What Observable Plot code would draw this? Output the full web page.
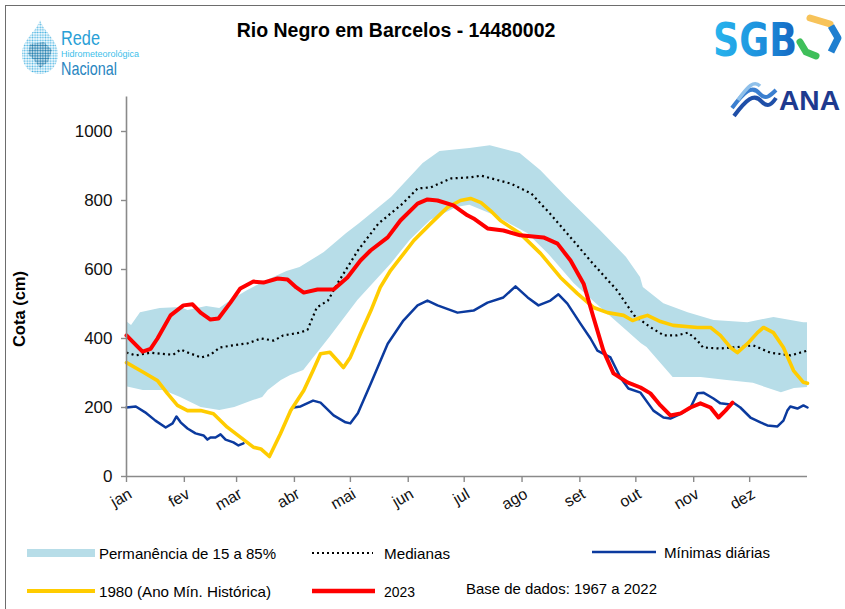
<!DOCTYPE html>
<html>
<head>
<meta charset="utf-8">
<script src="https://cdn.jsdelivr.net/npm/d3@7"></script>
<script src="https://cdn.jsdelivr.net/npm/@observablehq/plot@0.6"></script>
<style>
  html, body { margin: 0; padding: 0; background: #fff; }
  #page { position: relative; width: 845px; height: 609px; overflow: hidden; background: #fff;
          font-family: "Liberation Sans", Arial, sans-serif; }
  #frame { position: absolute; left: 5px; top: 5px; width: 900px; height: 700px;
           border-left: 1.5px solid #6d6d6d; border-top: 1.5px solid #6d6d6d; }
  #chart { position: absolute; left: 0; top: 80px; }
  .abs { position: absolute; }
</style>
</head>
<body>
<div id="page">
  <div id="frame"></div>
  <div id="chart"></div>
</div>
<script>
// ---------------- DATA ----------------
const monthStarts = [0, 31, 59, 90, 120, 151, 181, 212, 243, 273, 304, 334];
const monthLabels = ["jan", "fev", "mar", "abr", "mai", "jun", "jul", "ago", "set", "out", "nov", "dez"];
const yTicks = [0, 200, 400, 600, 800, 1000];

// Permanência 15% (upper edge of band)
const bandHiDays = [0, 2.7, 7.5, 18, 29, 33, 43, 50, 56, 65, 73, 86, 93, 106, 118, 125, 142, 159, 168, 184, 195, 211, 222, 236, 254, 268, 275.5, 277, 288, 301, 315, 333, 347, 363, 365];
const bandHi     = [449, 438, 475, 487, 490, 481, 493, 487, 510, 539, 562, 594, 606, 649, 704, 733, 809, 907, 942, 951, 959, 936, 887, 809, 713, 635, 577, 548, 501, 475, 452, 446, 461, 446, 446];
// Permanência 85% (lower edge of band)
const bandLoDays = [0, 9, 20, 29, 40, 50, 58, 68, 73, 76, 83, 88, 95, 109, 124, 142, 152, 163, 177, 184, 197, 215, 226, 240, 254, 268, 276, 279, 293, 308, 322, 336, 351, 358, 365];
const bandLo     = [260, 249, 249, 229, 200, 191, 200, 220, 229, 249, 278, 293, 307, 403, 510, 617, 684, 742, 780, 786, 757, 704, 646, 559, 490, 423, 385, 374, 287, 287, 278, 270, 243, 255, 258];

// Medianas
const medDays = [0, 5, 13, 18, 25, 29, 33, 40, 45, 50, 57, 65, 72, 79, 84, 93, 97, 102, 108, 113, 124, 135, 148, 156, 163, 174, 184, 190, 206, 217, 227, 238, 250, 263, 272, 281, 288, 295, 301, 306, 309, 318, 325, 336, 345, 356, 365];
const medVals = [359, 351, 359, 356, 353, 368, 359, 345, 353, 374, 380, 386, 400, 394, 409, 417, 425, 490, 510, 559, 655, 733, 791, 835, 838, 864, 867, 872, 849, 820, 762, 693, 617, 539, 467, 432, 409, 409, 417, 394, 374, 371, 374, 380, 359, 351, 365];

// Mínimas diárias (NaN = missing data)
const minDays = [0, 5, 10, 15.5, 21, 24.7, 26.8, 29, 32.7, 37, 41.3, 43.4, 45, 47.7, 50.4, 53.1, 57.3, 60, 62.7, 76, 89.5, 93.3, 100, 104, 111, 117.4, 120, 124, 131, 140, 148.4, 156, 161.3, 166.7, 177.4, 186, 193.5, 202, 208.5, 215, 220.8, 227.2, 231.5, 236.3, 243.3, 248.7, 252.4, 259.4, 264.7, 269, 275.5, 282.4, 287.8, 291.5, 295.3, 298.5, 302.3, 306, 309.2, 314.6, 318.3, 323.7, 325.3, 329, 334.4, 339.8, 343.5, 348.9, 352.1, 354.2, 355.8, 359.6, 362.8, 365];
const minVals = [200, 203, 186, 162, 142, 154, 174, 157, 139, 125, 119, 107, 113, 113, 122, 107, 99, 90, 96, NaN, 200, 203, 220, 214, 177, 157, 154, 183, 270, 385, 452, 496, 510, 496, 475, 481, 504, 519, 551, 519, 496, 510, 528, 501, 443, 400, 365, 345, 287, 255, 243, 191, 171, 168, 177, 186, 200, 241, 243, 226, 212, 209, 214, 200, 171, 157, 148, 145, 162, 191, 203, 197, 206, 200];

// 1980 (Ano Mín. Histórica)
const y1980Days = [0, 9, 16.6, 22, 27.3, 32.7, 39.7, 46.6, 54, 61, 68, 72, 76.6, 82.5, 88, 95, 100, 104, 109, 113, 116.3, 120, 125.4, 131, 136, 141.5, 147, 154, 163, 172, 179, 184.4, 190, 195, 200.4, 211, 222, 232.6, 241.7, 250.3, 257.8, 266.4, 271.2, 275.5, 279.2, 286.2, 293, 306, 313, 318.3, 323.7, 327.4, 332.8, 338.2, 341.4, 346.7, 352.1, 357.5, 362.8, 365];
const y1980Vals = [330, 302, 278, 240, 206, 191, 191, 182, 143, 114, 85, 80, 58, 124, 191, 249, 307, 356, 360, 336, 316, 346, 414, 481, 548, 597, 635, 684, 733, 780, 800, 806, 794, 771, 742, 704, 646, 577, 530, 490, 475, 467, 452, 461, 467, 449, 438, 432, 432, 409, 374, 359, 385, 417, 432, 417, 374, 307, 273, 270];

// 2023
const y2023Days = [0, 3.8, 8.6, 12.9, 16.6, 23.6, 30.5, 35.4, 39.7, 45, 49.3, 55.7, 61, 68, 73.4, 81, 86.3, 91, 95, 102.4, 111, 118.4, 125.4, 130.8, 140, 146.8, 156, 161.3, 166.7, 175.2, 182.7, 186, 193.5, 202, 211, 223.5, 231, 238, 245, 250.3, 255.6, 261, 268.5, 275.5, 280.8, 286.2, 291.5, 297, 302.3, 307.6, 313, 317.3, 321, 324.8];
const y2023Vals = [409, 388, 362, 370, 400, 467, 496, 499, 475, 455, 458, 504, 545, 565, 562, 574, 571, 548, 533, 542, 542, 577, 626, 655, 693, 742, 791, 803, 800, 786, 757, 748, 719, 713, 699, 693, 675, 626, 559, 461, 365, 299, 273, 258, 241, 206, 177, 183, 200, 212, 200, 171, 191, 214];

// ---------------- CHART ----------------
const axisGray = "#8a8a8a";
const chart = Plot.plot({
  width: 845,
  height: 450,
  marginLeft: 126,
  marginRight: 38,
  marginTop: 16.5,
  marginBottom: 54,
  x: {domain: [0, 365], axis: null},
  y: {domain: [0, 1100], axis: null},
  style: {fontFamily: "'Liberation Sans', Arial, sans-serif", background: "transparent", overflow: "visible"},
  marks: [
    Plot.area(bandLoDays, {x1: bandLoDays, y1: bandLo, x2: bandHiDays, y2: bandHi, fill: "#b7dde8"}),
    Plot.line(medDays, {x: medDays, y: medVals, stroke: "#000", strokeWidth: 2.2, strokeDasharray: "2,3.3", strokeLinecap: "butt"}),
    Plot.line(minDays, {x: minDays, y: minVals, stroke: "#0b3a9e", strokeWidth: 2.5}),
    Plot.line(y1980Days, {x: y1980Days, y: y1980Vals, stroke: "#ffcc00", strokeWidth: 3.6}),
    Plot.line(y2023Days, {x: y2023Days, y: y2023Vals, stroke: "#ff0000", strokeWidth: 4}),
    Plot.ruleX([0], {y1: 0, y2: 1100, stroke: axisGray, strokeWidth: 1.6}),
    Plot.ruleY([0], {x1: 0, x2: 365, stroke: axisGray, strokeWidth: 1.6}),
    Plot.axisY(yTicks, {anchor: "left", tickSize: 5, tickPadding: 9, fontSize: 17, stroke: axisGray, strokeWidth: 1.4,
      fill: "#111", label: null, tickFormat: d => String(d)}),
    Plot.axisX(monthStarts, {anchor: "bottom", tickSize: 6, stroke: axisGray, strokeWidth: 1.4, label: null, tickFormat: () => ""}),
    Plot.text(monthStarts, {x: d => d, frameAnchor: "bottom", text: d => monthLabels[monthStarts.indexOf(d)],
      rotate: -30, textAnchor: "end", lineAnchor: "middle", dx: 4, dy: 16, fontSize: 16, fill: "#111"})
  ]
});
document.getElementById("chart").appendChild(chart);

// ---------------- TITLES, LEGEND, LOGOS ----------------
const ns = "http://www.w3.org/2000/svg";
const page = document.getElementById("page");
const over = document.createElementNS(ns, "svg");
over.setAttribute("width", 845);
over.setAttribute("height", 609);
over.setAttribute("class", "abs");
over.style.left = "0px"; over.style.top = "0px";
over.style.fontFamily = "'Liberation Sans', Arial, sans-serif";
page.appendChild(over);

function el(tag, attrs, text) {
  const e = document.createElementNS(ns, tag);
  for (const k in attrs) e.setAttribute(k, attrs[k]);
  if (text != null) e.textContent = text;
  over.appendChild(e);
  return e;
}

// Title
el("text", {x: 396, y: 37, "text-anchor": "middle", "font-size": 19.5, "font-weight": "bold", fill: "#000"}, "Rio Negro em Barcelos - 14480002");
// Y label
el("text", {x: 0, y: 0, transform: "translate(25,309) rotate(-90)", "text-anchor": "middle", "font-size": 16.5, "font-weight": "bold", fill: "#000"}, "Cota (cm)");

// Legend
const legendItems = [
  {kind: "band", x: 27, y: 553, label: "Permanência de 15 a 85%", tx: 99, tw: 177},
  {kind: "dot", x: 312, y: 553, label: "Medianas", tx: 384, tw: 66},
  {kind: "min", x: 592, y: 552, label: "Mínimas diárias", tx: 664, tw: 106},
  {kind: "y1980", x: 27, y: 591, label: "1980 (Ano Mín. Histórica)", tx: 99, tw: 172},
  {kind: "y2023", x: 312, y: 591, label: "2023", tx: 384, tw: 31}
];
for (const it of legendItems) {
  if (it.kind === "band") el("rect", {x: it.x, y: it.y - 4, width: 68, height: 8, fill: "#b7dde8"});
  if (it.kind === "dot") el("line", {x1: it.x, x2: it.x + 61, y1: it.y, y2: it.y, stroke: "#000", "stroke-width": 2, "stroke-dasharray": "2,3"});
  if (it.kind === "min") el("line", {x1: it.x, x2: it.x + 64, y1: it.y, y2: it.y, stroke: "#0b3a9e", "stroke-width": 2.6});
  if (it.kind === "y1980") el("line", {x1: it.x, x2: it.x + 68, y1: it.y, y2: it.y, stroke: "#ffcc00", "stroke-width": 4});
  if (it.kind === "y2023") el("line", {x1: it.x, x2: it.x + 63, y1: it.y, y2: it.y, stroke: "#ff0000", "stroke-width": 4.5});
  el("text", {x: it.tx, y: it.y + 5.5, "font-size": 15, fill: "#000", textLength: it.tw, lengthAdjust: "spacingAndGlyphs"}, it.label);
}
el("text", {x: 466, y: 593.5, "font-size": 15, fill: "#000", textLength: 191, lengthAdjust: "spacingAndGlyphs"}, "Base de dados: 1967 a 2022");

// Logos: Rede Hidrometeorológica Nacional
const defs = el("defs", {});
defs.innerHTML = `
  <pattern id="dots" width="2.6" height="2.6" patternUnits="userSpaceOnUse">
    <circle cx="1.3" cy="1.3" r="0.95" fill="#2aa6dc"/>
  </pattern>
  <pattern id="dots2" width="2.6" height="2.6" patternUnits="userSpaceOnUse">
    <circle cx="1.3" cy="1.3" r="1.05" fill="#1b6f9e"/>
  </pattern>
  <linearGradient id="sgbg" x1="0" x2="1" y1="0" y2="0">
    <stop offset="0" stop-color="#27b6ee"/>
    <stop offset="0.6" stop-color="#1d8fdc"/>
    <stop offset="1" stop-color="#1565c0"/>
  </linearGradient>`;
el("path", {d: "M40,20 C44,32 58,40 58,54 C58,66 50,74 40,74 C30,74 22,66 22,54 C22,40 36,32 40,20 Z", fill: "url(#dots)", opacity: 0.85});
el("path", {d: "M30,44 L44,42 L52,50 L48,62 L40,68 L34,60 L28,54 Z", fill: "url(#dots2)", opacity: 0.8});
el("text", {x: 61, y: 45, "font-size": 21, fill: "#2a9fd6", textLength: 39, lengthAdjust: "spacingAndGlyphs"}, "Rede");
el("text", {x: 61, y: 57, "font-size": 8.5, fill: "#3cc0ea", textLength: 78, lengthAdjust: "spacingAndGlyphs"}, "Hidrometeorológica");
el("text", {x: 61, y: 75, "font-size": 19, fill: "#2a86bf", textLength: 56, lengthAdjust: "spacingAndGlyphs"}, "Nacional");

// SGB
el("text", {x: 713, y: 56, "font-size": 46, "font-weight": "bold", fill: "url(#sgbg)", textLength: 84, lengthAdjust: "spacingAndGlyphs", "font-family": "'DejaVu Sans', sans-serif"}, "SGB");
el("path", {d: "M810,18 L830,24", stroke: "#f7c35a", "stroke-width": 7, fill: "none", "stroke-linecap": "round"});
el("path", {d: "M831,26 L838,38 L831,52", stroke: "#1f7fd0", "stroke-width": 7, fill: "none", "stroke-linejoin": "round"});
el("path", {d: "M800,42 L806,52 L816,56", stroke: "#3fbf5a", "stroke-width": 7, fill: "none", "stroke-linecap": "round"});

// ANA
el("path", {d: "M732,108 C744,92 752,84 760,94 C766,100 770,96 776,90", stroke: "#3b7fd0", "stroke-width": 4, fill: "none"});
el("path", {d: "M734,116 C746,100 754,92 762,102 C768,108 772,104 776,98", stroke: "#1f4fa8", "stroke-width": 4, fill: "none"});
el("path", {d: "M738,100 C748,86 754,80 760,86", stroke: "#8fc0ea", "stroke-width": 3.5, fill: "none"});
el("text", {x: 779, y: 110, "font-size": 28, "font-weight": "bold", fill: "#1e3a8f", textLength: 61, lengthAdjust: "spacingAndGlyphs"}, "ANA");
</script>
</body>
</html>
